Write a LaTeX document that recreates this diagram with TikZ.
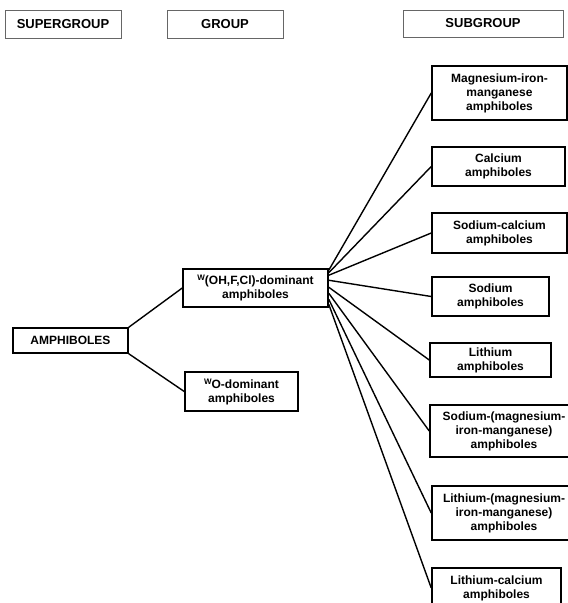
\documentclass[tikz,border=0pt]{standalone}
\usepackage{fontspec}
\setmainfont{Liberation Sans}
\begin{document}
\begin{tikzpicture}[x=1pt,y=-1pt,
  hdr/.style={draw=black!60, line width=0.8pt, rectangle, inner sep=0pt,
    font=\fontsize{13}{15}\selectfont\bfseries},
  box/.style={draw=black, line width=1.5pt, rectangle, inner sep=0pt, align=center,
    font=\fontsize{12}{14}\selectfont\bfseries},
  conn/.style={draw=black, line width=1.4pt}]
\useasboundingbox (0,0) rectangle (568,603);
\newcommand{\supW}{\raisebox{4pt}{\fontsize{8}{8}\selectfont W}}
% headers
\node[hdr, minimum width=116, minimum height=28] (hsuper) at (63,24) {SUPERGROUP};
\node[hdr, minimum width=116, minimum height=28] (hgroup) at (225,24) {GROUP};
\node[hdr, minimum width=160, minimum height=27] (hsub) at (483,23.5) {SUBGROUP};
% main boxes
\node[box, minimum width=115, minimum height=25] (amph) at (70.5,340.5) {AMPHIBOLES};
\node[box, minimum width=145, minimum height=38] (woh) at (255.5,288) {\supW(OH,F,Cl)-dominant\\amphiboles};
\node[box, minimum width=113, minimum height=39] (wo) at (241.5,391.5) {\supW O-dominant\\amphiboles};
% subgroups
\node[box, minimum width=135, minimum height=54] (mg) at (499.5,93) {Magnesium-iron-\\manganese\\amphiboles};
\node[box, minimum width=133, minimum height=39] (ca) at (498.5,166.5) {Calcium\\amphiboles};
\node[box, minimum width=135, minimum height=40] (naca) at (499.5,233) {Sodium-calcium\\amphiboles};
\node[box, minimum width=117, minimum height=39] (na) at (490.5,296.5) {Sodium\\amphiboles};
\node[box, minimum width=121, minimum height=34] (li) at (490.5,360) {Lithium\\amphiboles};
\node[box, minimum width=148, minimum height=52] (namg) at (504,431) {Sodium-(magnesium-\\iron-manganese)\\amphiboles};
\node[box, minimum width=144, minimum height=54] (limg) at (504,513) {Lithium-(magnesium-\\iron-manganese)\\amphiboles};
\node[box, minimum width=129, minimum height=40] (lica) at (496.5,588) {Lithium-calcium\\amphiboles};
% connectors
\draw[conn] (amph.north east) -- (woh.west);
\draw[conn] (amph.south east) -- (wo.west);
\coordinate (s1) at ([yshift=-2pt]woh.north east);
\coordinate (s2) at ([yshift=-4.5pt]woh.north east);
\coordinate (s3) at ([yshift=-7pt]woh.north east);
\coordinate (s4) at ([yshift=-12pt]woh.north east);
\coordinate (s5) at ([yshift=-19pt]woh.north east);
\coordinate (s6) at ([yshift=-25pt]woh.north east);
\coordinate (s7) at ([yshift=-31pt]woh.north east);
\coordinate (s8) at ([yshift=-36pt]woh.north east);
\draw[conn] (s1) -- (mg.west);
\draw[conn] (s2) -- (ca.west);
\draw[conn] (s3) -- (naca.west);
\draw[conn] (s4) -- (na.west);
\draw[conn] (s5) -- (li.west);
\draw[conn] (s6) -- (namg.west);
\draw[conn] (s7) -- (limg.west);
\draw[conn] (s8) -- (lica.west);
\end{tikzpicture}
\end{document}
